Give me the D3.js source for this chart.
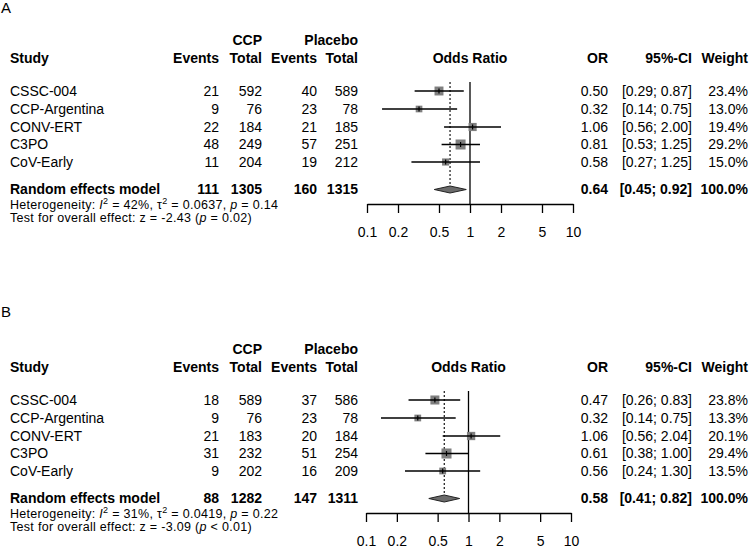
<!DOCTYPE html>
<html>
<head>
<meta charset="utf-8">
<script src="https://cdn.jsdelivr.net/npm/d3@7"></script>
<style>
  html, body { margin: 0; padding: 0; background: #fff; }
  svg { display: block; }
  text { font-family: "Liberation Sans", Arial, sans-serif; fill: #000; }
</style>
</head>
<body>
<svg id="chart" width="750" height="548"></svg>
<script>
// ---------------- DATA ----------------
const studies = ["CSSC-004", "CCP-Argentina", "CONV-ERT", "C3PO", "CoV-Early"];
const tickValues = [0.1, 0.2, 0.5, 1, 2, 5, 10];
const tickLabels = ["0.1", "0.2", "0.5", "1", "2", "5", "10"];

// Panel A
const ccpEventsA = [21, 9, 22, 48, 11];
const ccpTotalA  = [592, 76, 184, 249, 204];
const plcEventsA = [40, 23, 21, 57, 19];
const plcTotalA  = [589, 78, 185, 251, 212];
const orA  = [0.50, 0.32, 1.06, 0.81, 0.58];
const loA  = [0.29, 0.14, 0.56, 0.53, 0.27];
const hiA  = [0.87, 0.75, 2.00, 1.25, 1.25];
const wA   = [23.4, 13.0, 19.4, 29.2, 15.0];
const pooledA = { ev1: 111, n1: 1305, ev2: 160, n2: 1315, or: 0.64, lo: 0.45, hi: 0.92, w: 100.0 };
const hetA = { i2: "42%", tau2: "0.0637", p: "= 0.14" };
const testA = { z: "-2.43", p: "= 0.02" };

// Panel B
const ccpEventsB = [18, 9, 21, 31, 9];
const ccpTotalB  = [589, 76, 183, 232, 202];
const plcEventsB = [37, 23, 20, 51, 16];
const plcTotalB  = [586, 78, 184, 254, 209];
const orB  = [0.47, 0.32, 1.06, 0.61, 0.56];
const loB  = [0.26, 0.14, 0.56, 0.38, 0.24];
const hiB  = [0.83, 0.75, 2.04, 1.00, 1.30];
const wB   = [23.8, 13.3, 20.1, 29.4, 13.5];
const pooledB = { ev1: 88, n1: 1282, ev2: 147, n2: 1311, or: 0.58, lo: 0.41, hi: 0.82, w: 100.0 };
const hetB = { i2: "31%", tau2: "0.0419", p: "= 0.22" };
const testB = { z: "-3.09", p: "< 0.01" };

// ---------------- DRAW ----------------
const svg = d3.select("#chart");
const FS = 14;
const fmt2 = d3.format(".2f");
const fmtW = d3.format(".1f");

function panel(cfg) {
  const g = svg.append("g").attr("transform", `translate(0,${cfg.dy})`);
  const x = d3.scaleLog().domain([0.1, 10]).range(cfg.xr);
  const rowY = [91, 109, 127, 144.5, 162];
  const poolY = 189.5;
  const axisY = 204;

  // panel letter
  g.append("text").attr("x", 1).attr("y", cfg.letterY).attr("dy", "0.35em")
    .attr("font-size", 15).text(cfg.letter);

  // headers
  const hdr = (txt, xx, yy, anchor) => g.append("text").attr("x", xx).attr("y", yy)
    .attr("dy", "0.35em").attr("font-size", FS).attr("font-weight", "bold")
    .attr("text-anchor", anchor).text(txt);
  hdr("CCP", 262, 40, "end");
  hdr("Placebo", 358, 40, "end");
  hdr("Study", 10, 58, "start");
  hdr("Events", 219, 58, "end");
  hdr("Total", 262, 58, "end");
  hdr("Events", 317, 58, "end");
  hdr("Total", 358, 58, "end");
  hdr("Odds Ratio", x(1), 58, "middle");
  hdr("OR", 608, 58, "end");
  hdr("95%-CI", 692, 58, "end");
  hdr("Weight", 748, 58, "end");

  const cell = (txt, xx, yy, anchor, bold) => g.append("text").attr("x", xx).attr("y", yy)
    .attr("dy", "0.35em").attr("font-size", FS).attr("font-weight", bold ? "bold" : "normal")
    .attr("text-anchor", anchor).text(txt);

  studies.forEach((s, i) => {
    const y = rowY[i];
    cell(s, 10, y, "start");
    cell(cfg.e1[i], 219, y, "end");
    cell(cfg.n1[i], 262, y, "end");
    cell(cfg.e2[i], 317, y, "end");
    cell(cfg.n2[i], 358, y, "end");
    cell(fmt2(cfg.or[i]), 608, y, "end");
    cell(`[${fmt2(cfg.lo[i])}; ${fmt2(cfg.hi[i])}]`, 692, y, "end");
    cell(fmtW(cfg.w[i]) + "%", 748, y, "end");
  });
  const p = cfg.pooled;
  cell("Random effects model", 10, poolY, "start", true);
  cell(p.ev1, 219, poolY, "end", true);
  cell(p.n1, 262, poolY, "end", true);
  cell(p.ev2, 317, poolY, "end", true);
  cell(p.n2, 358, poolY, "end", true);
  cell(fmt2(p.or), 608, poolY, "end", true);
  cell(`[${fmt2(p.lo)}; ${fmt2(p.hi)}]`, 692, poolY, "end", true);
  cell(fmtW(p.w) + "%", 748, poolY, "end", true);

  // heterogeneity line
  const small = 12.5;
  const het = g.append("text").attr("x", 10).attr("y", 204.5).attr("dy", "0.35em")
    .attr("font-size", small).attr("letter-spacing", 0.3);
  het.append("tspan").text("Heterogeneity: ");
  het.append("tspan").attr("font-style", "italic").text("I");
  het.append("tspan").attr("font-size", 9).attr("dy", -5).text("2");
  het.append("tspan").attr("dy", 5).text(` = ${cfg.het.i2}, τ`);
  het.append("tspan").attr("font-size", 9).attr("dy", -5).text("2");
  het.append("tspan").attr("dy", 5).text(` = ${cfg.het.tau2}, `);
  het.append("tspan").attr("font-style", "italic").text("p");
  het.append("tspan").text(` ${cfg.het.p}`);

  const tst = g.append("text").attr("x", 10).attr("y", 218).attr("dy", "0.35em")
    .attr("font-size", small).attr("letter-spacing", 0.3);
  tst.append("tspan").text(`Test for overall effect: z = ${cfg.test.z} (`);
  tst.append("tspan").attr("font-style", "italic").text("p");
  tst.append("tspan").text(` ${cfg.test.p})`);

  // reference line at 1
  g.append("line").attr("x1", x(1)).attr("x2", x(1)).attr("y1", 82).attr("y2", axisY)
    .attr("stroke", "#000").attr("stroke-width", 1.3);
  // dashed line at pooled estimate
  g.append("line").attr("x1", x(p.or)).attr("x2", x(p.or)).attr("y1", 82).attr("y2", poolY - 3.5)
    .attr("stroke", "#000").attr("stroke-width", 1.1).attr("stroke-dasharray", "2,2");

  // study boxes and CIs
  const side = w => 1.85 * Math.sqrt(w);
  studies.forEach((s, i) => {
    const y = rowY[i];
    const sz = side(cfg.w[i]);
    g.append("rect").attr("x", x(cfg.or[i]) - sz / 2).attr("y", y - sz / 2)
      .attr("width", sz).attr("height", sz).attr("fill", "#7f7f7f");
    g.append("line").attr("x1", x(cfg.lo[i])).attr("x2", x(cfg.hi[i])).attr("y1", y).attr("y2", y)
      .attr("stroke", "#000").attr("stroke-width", 1.3);
    g.append("line").attr("x1", x(cfg.or[i])).attr("x2", x(cfg.or[i])).attr("y1", y - 2.5).attr("y2", y + 2.5)
      .attr("stroke", "#000").attr("stroke-width", 1.2);
  });

  // diamond
  const dh = 3.5;
  g.append("path")
    .attr("d", `M${x(p.lo)},${poolY} L${x(p.or)},${poolY - dh} L${x(p.hi)},${poolY} L${x(p.or)},${poolY + dh} Z`)
    .attr("fill", "#6b6b6b").attr("stroke", "#222").attr("stroke-width", 1);

  // axis
  const axis = d3.axisBottom(x).tickValues(tickValues)
    .tickFormat((d, i) => tickLabels[i]).tickSize(9).tickPadding(14).tickSizeOuter(0);
  const ag = g.append("g").attr("transform", `translate(0,${axisY})`).call(axis);
  ag.select(".domain").attr("stroke", "#000").attr("stroke-width", 1.3);
  ag.selectAll(".tick line").attr("stroke", "#000").attr("stroke-width", 1.3);
  ag.selectAll(".tick text").attr("font-size", FS).attr("font-family", "Liberation Sans, Arial, sans-serif")
    .attr("fill", "#000");
}

panel({ dy: 0, letter: "A", letterY: 8, xr: [367, 573],
  e1: ccpEventsA, n1: ccpTotalA, e2: plcEventsA, n2: plcTotalA,
  or: orA, lo: loA, hi: hiA, w: wA, pooled: pooledA, het: hetA, test: testA });
panel({ dy: 309, letter: "B", letterY: 3, xr: [366, 571],
  e1: ccpEventsB, n1: ccpTotalB, e2: plcEventsB, n2: plcTotalB,
  or: orB, lo: loB, hi: hiB, w: wB, pooled: pooledB, het: hetB, test: testB });
</script>
</body>
</html>
